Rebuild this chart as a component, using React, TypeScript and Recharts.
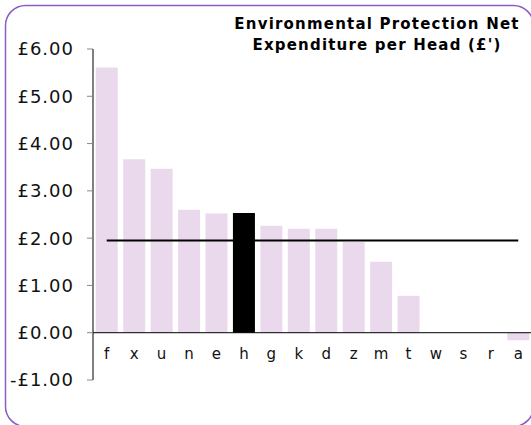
import React from "react"
import { Bar, ComposedChart, Line, XAxis, YAxis, Cell, ReferenceLine } from "recharts"

// values
const categories = ["f", "x", "u", "n", "e", "h", "g", "k", "d", "z", "m", "t", "w", "s", "r", "a"]
const spend = [5.61, 3.67, 3.47, 2.6, 2.52, 2.53, 2.26, 2.2, 2.2, 1.92, 1.5, 0.78, 0, 0, 0, -0.16]
const average = [1.95, 1.95, 1.95, 1.95, 1.95, 1.95, 1.95, 1.95, 1.95, 1.95, 1.95, 1.95, 1.95, 1.95, 1.95, 1.95]
const highlight = "h"
const yTicks = [-1, 0, 1, 2, 3, 4, 5, 6]
const titleLines = ["Environmental Protection Net", "Expenditure per Head (£')"]

const data = categories.map((name, i) => ({ name, spend: spend[i], average: average[i] }))

const font = "'DejaVu Sans', Verdana, sans-serif"

const money = (v: number) => (v < 0 ? "-£" : "£") + Math.abs(v).toFixed(2)

export default function App() {
  return (
    <div style={{ position: "fixed", left: 0, top: 0, width: 531, height: 425, overflow: "hidden", background: "#fff", fontFamily: font }}>
      <div style={{ position: "absolute", left: 0, top: 0 }}>
        <ComposedChart
          width={540}
          height={425}
          data={data}
          margin={{ top: 49, right: 8, bottom: 44, left: 0 }}
          barCategoryGap="10%"
        >
          <XAxis
            dataKey="name"
            height={1}
            axisLine={false}
            tickLine={false}
            tickSize={0}
            tickMargin={0}
            interval={0}
            tick={(p: any) => (
              <text x={p.x} y={p.y} dy={-21} textAnchor="middle" fontSize={15} fontFamily={font} fill="#111">
                {p.payload.value}
              </text>
            )}
          />
          <YAxis
            width={93}
            domain={[-1, 6]}
            ticks={yTicks}
            interval={0}
            tickFormatter={money}
            axisLine={{ stroke: "#000", strokeWidth: 1 }}
            tickLine={{ stroke: "#888" }}
            tickSize={6}
            tickMargin={13}
            tick={{ fontSize: 18, fill: "#111", fontFamily: font, letterSpacing: 1 }}
          />
          <ReferenceLine y={0} stroke="#000" strokeWidth={1} />
          <Bar dataKey="spend" isAnimationActive={false}>
            {data.map((d) => (
              <Cell key={d.name} fill={d.name === highlight ? "#000" : "#ead9ec"} />
            ))}
          </Bar>
          <Line
            dataKey="average"
            stroke="#000"
            strokeWidth={2}
            dot={false}
            activeDot={false}
            isAnimationActive={false}
          />
        </ComposedChart>
      </div>
      <div
        style={{
          position: "absolute", left: 217, width: 320, top: 14, textAlign: "center",
          fontSize: 15, fontWeight: "bold", lineHeight: "21px", color: "#000", letterSpacing: 1.2,
        }}
      >
        {titleLines.map((t) => (
          <div key={t}>{t}</div>
        ))}
      </div>
      <svg width={531} height={425} style={{ position: "absolute", left: 0, top: 0, pointerEvents: "none" }}>
        <rect x={5.5} y={5.5} width={528} height={421} rx={20} ry={20} fill="none" stroke="#8b5cc4" strokeWidth={1.5} />
      </svg>
    </div>
  )
}
